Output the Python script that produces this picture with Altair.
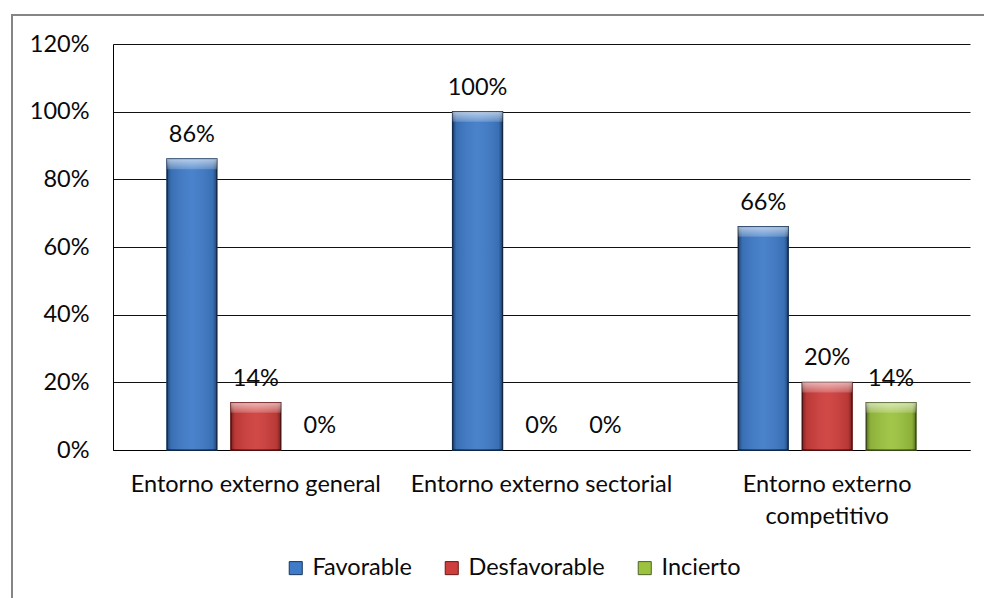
import altair as alt
import pandas as pd

categories = ["Entorno externo general", "Entorno externo sectorial", "Entorno externo competitivo"]
series = ["Favorable", "Desfavorable", "Incierto"]
favorable = [0.86, 1.00, 0.66]
desfavorable = [0.14, 0.00, 0.20]
incierto = [0.00, 0.00, 0.14]
y_ticks = [0, 0.2, 0.4, 0.6, 0.8, 1.0, 1.2]
fill_colors = ["#3F7BC8", "#CE3E3C", "#9BC33E"]
edge_colors = ["#17365D", "#6A1614", "#4F6228"]

rows = []
for i, c in enumerate(categories):
    for s, vals in zip(series, [favorable, desfavorable, incierto]):
        rows.append({"categoria": c, "serie": s, "valor": vals[i]})
df = pd.DataFrame(rows)

FONT = "Lato"
FS = 23.5

x_enc = alt.X(
    "categoria:N", sort=categories,
    scale=alt.Scale(paddingInner=0, paddingOuter=0),
    axis=alt.Axis(
        title=None, labelAngle=0, ticks=False, domainColor="#000000", domainWidth=1,
        labelPadding=22, labelFont=FONT, labelFontSize=FS, labelColor="#0a0a0a",
        labelLineHeight=32, grid=False, labelLimit=0,
        labelExpr="datum.value == 'Entorno externo competitivo' ? ['Entorno externo', 'competitivo'] : datum.label",
    ),
)
xo_enc = alt.XOffset("serie:N", sort=series,
                     scale=alt.Scale(paddingInner=0.21875, paddingOuter=0.84375))
y_enc = alt.Y(
    "valor:Q",
    scale=alt.Scale(domain=[0, 1.2], nice=False),
    axis=alt.Axis(
        title=None, values=y_ticks, format=".0%", ticks=False, domain=True,
        domainColor="#000000", gridColor="#111111", gridWidth=1, labelPadding=24,
        labelFont=FONT, labelFontSize=FS, labelColor="#0a0a0a",
    ),
)

base = alt.Chart(df)

bars = base.transform_filter("datum.valor > 0").mark_bar(strokeWidth=1.4).encode(
    x=x_enc, xOffset=xo_enc, y=y_enc,
    color=alt.Color(
        "serie:N", sort=series,
        scale=alt.Scale(domain=series, range=fill_colors),
        legend=alt.Legend(
            title=None, orient="none", legendX=171, legendY=512, direction="horizontal",
            symbolType="square", symbolSize=170, symbolStrokeColor="#222222",
            symbolStrokeWidth=1, labelFont=FONT, labelFontSize=FS, labelColor="#0a0a0a",
            columnPadding=28, labelOffset=5, labelLimit=0,
        ),
    ),
    stroke=alt.Stroke("serie:N", sort=series,
                      scale=alt.Scale(domain=series, range=edge_colors), legend=None),
)

side_shade = alt.LinearGradient(
    gradient="linear", x1=0, y1=0, x2=1, y2=0,
    stops=[
        alt.GradientStop(offset=0, color="rgba(0,0,0,0.45)"),
        alt.GradientStop(offset=0.08, color="rgba(0,0,0,0.10)"),
        alt.GradientStop(offset=0.5, color="rgba(255,255,255,0.06)"),
        alt.GradientStop(offset=0.92, color="rgba(0,0,0,0.10)"),
        alt.GradientStop(offset=1, color="rgba(0,0,0,0.45)"),
    ],
)
shade = base.transform_filter("datum.valor > 0").mark_bar(fill=side_shade).encode(
    x=x_enc, xOffset=xo_enc, y=y_enc,
)

top_light = alt.LinearGradient(
    gradient="linear", x1=0, y1=0, x2=0, y2=1,
    stops=[
        alt.GradientStop(offset=0, color="rgba(255,255,255,0.6)"),
        alt.GradientStop(offset=1, color="rgba(255,255,255,0.18)"),
    ],
)
bevel = base.transform_filter("datum.valor > 0").transform_calculate(
    bevel_bottom="datum.valor - 0.03"
).mark_bar(fill=top_light).encode(
    x=x_enc, xOffset=xo_enc, y=y_enc, y2="bevel_bottom:Q",
)

labels = base.mark_text(baseline="alphabetic", dy=-17, font=FONT, fontSize=FS,
                        color="#0a0a0a").encode(
    x=x_enc, xOffset=xo_enc, y=y_enc,
    text=alt.Text("valor:Q", format=".0%"),
)

border = alt.Chart(alt.Data(values=[{"k": 1}])).mark_rect(
    fillOpacity=0, stroke="#858585", strokeWidth=2
).encode(
    x=alt.value(-101), x2=alt.value(1000), y=alt.value(-29), y2=alt.value(700)
)

chart = alt.layer(border, bars, shade, bevel, labels).properties(
    width=857, height=406,
    autosize=alt.AutoSizeParams(type="none"),
    padding={"left": 113, "top": 44, "right": 14, "bottom": 148},
    background="white",
).configure_view(stroke=None)

chart.save("out.html", embed_options={"renderer": "svg", "actions": False})
